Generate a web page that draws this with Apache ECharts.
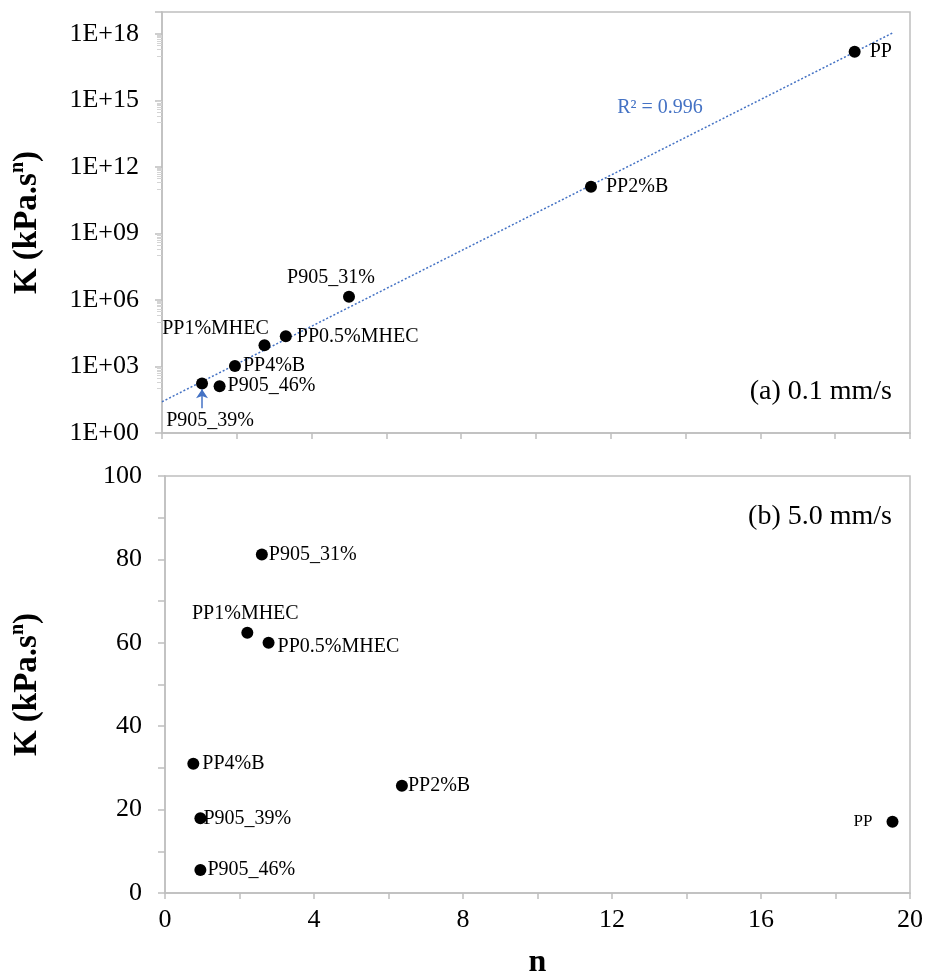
<!DOCTYPE html>
<html><head><meta charset="utf-8">
<script src="https://cdn.jsdelivr.net/npm/echarts@6/dist/echarts.min.js"></script>
<style>html,body{margin:0;padding:0;background:#fff}#c{width:940px;height:980px}</style>
</head><body><div id="c"></div>
<script>
// ---- data (a) 0.1 mm/s ----
const namesA = ['PP', 'PP2%B', 'P905_31%', 'PP0.5%MHEC', 'PP1%MHEC', 'PP4%B', 'P905_46%', 'P905_39%'];
const nA = [18.52, 11.47, 5.0, 3.31, 2.74, 1.95, 1.54, 1.07];
const kA = [1.6e17, 1.3e11, 1.4e6, 2.3e4, 9.1e3, 1.05e3, 1.3e2, 1.7e2];
// fitted exponential trend (end points)
const trendN = [0, 19.55];
const trendK = [25.7, 1.17e18];
const r2Text = 'R² = 0.996';
// ---- data (b) 5.0 mm/s ----
const namesB = ['P905_31%', 'PP1%MHEC', 'PP0.5%MHEC', 'PP4%B', 'PP2%B', 'P905_39%', 'P905_46%', 'PP'];
const nB = [2.6, 2.21, 2.78, 0.76, 6.36, 0.95, 0.95, 19.53];
const kB = [81.2, 62.4, 60.0, 31.0, 25.7, 17.9, 5.5, 17.1];
// ---- texts ----
const panelA = '(a) 0.1 mm/s';
const panelB = '(b) 5.0 mm/s';
const xTitle = 'n';

const FONT = 'Liberation Serif';
const BLUE = '#4472C4';
const GRAY = '#BFBFBF';

const labelA = {
  'PP': {position: 'right', distance: 9},
  'PP2%B': {position: 'right', distance: 9},
  'P905_31%': {position: 'top', distance: 3, offset: [-18, 0]},
  'PP0.5%MHEC': {position: 'right', distance: 5},
  'PP1%MHEC': {position: 'top', distance: 1, offset: [-49, 0]},
  'PP4%B': {position: 'right', distance: 2},
  'P905_46%': {position: 'right', distance: 2},
  'P905_39%': {position: 'bottom', distance: 21, offset: [8, 0]}
};
const labelB = {
  'P905_31%': {position: 'right', distance: 1},
  'PP1%MHEC': {position: 'top', distance: 3, offset: [-2, 0]},
  'PP0.5%MHEC': {position: 'right', distance: 3, offset: [0, 4]},
  'PP4%B': {position: 'right', distance: 3},
  'PP2%B': {position: 'right', distance: 0},
  'P905_39%': {position: 'right', distance: -3},
  'P905_46%': {position: 'right', distance: 1},
  'PP': {position: 'left', distance: 14, fontSize: 17}
};

const dataA = nA.map((n, i) => ({name: namesA[i], value: [n, kA[i]], label: labelA[namesA[i]]}));
const dataB = nB.map((n, i) => ({name: namesB[i], value: [n, kB[i]], label: labelB[namesB[i]]}));
const trendData = trendN.map((n, i) => [n, trendK[i]]);

const titleRich = {
  a: {fontSize: 33, fontWeight: 'bold', fontFamily: FONT, color: '#000', lineHeight: 38},
  s: {fontSize: 20, fontWeight: 'bold', fontFamily: FONT, color: '#000', verticalAlign: 'top', lineHeight: 22}
};
const kTitle = '{a|K (kPa.s}{s|n}{a|)}';

function pad2(e) { return (e < 10 ? '0' : '') + e; }

const labelStyle = {show: true, formatter: '{b}', fontSize: 20, fontFamily: FONT, color: '#000'};

const chart = echarts.init(document.getElementById('c'), null, {renderer: 'canvas'});
chart.setOption({
  animation: false,
  backgroundColor: '#fff',
  textStyle: {fontFamily: FONT, color: '#000'},
  grid: [
    {left: 160, top: 12, width: 750, height: 421, show: true, borderColor: GRAY, borderWidth: 1.5, containLabel: false},
    {left: 162, top: 476, width: 748, height: 420, show: true, borderColor: GRAY, borderWidth: 1.5, containLabel: false}
  ],
  xAxis: [
    {gridIndex: 0, type: 'value', min: 0, max: 20, interval: 2,
      axisLine: {lineStyle: {color: GRAY, width: 1.5}},
      axisTick: {show: true, length: 6, lineStyle: {color: GRAY, width: 1.5}},
      axisLabel: {show: false}, splitLine: {show: false}},
    {gridIndex: 1, type: 'value', min: 0, max: 20, interval: 2,
      name: xTitle, nameLocation: 'middle', nameGap: 54,
      nameTextStyle: {fontSize: 32, fontWeight: 'bold', fontFamily: FONT, color: '#000'},
      axisLine: {lineStyle: {color: GRAY, width: 1.5}},
      axisTick: {show: true, length: 6, lineStyle: {color: GRAY, width: 1.5}},
      axisLabel: {fontSize: 26, fontFamily: FONT, color: '#000', margin: 14,
        formatter: v => (Math.round(v) % 4 === 0 ? String(Math.round(v)) : '')},
      splitLine: {show: false}}
  ],
  yAxis: [
    {gridIndex: 0, type: 'log', logBase: 10, min: 1, max: 1e19, interval: 3,
      name: kTitle, nameLocation: 'middle', nameRotate: 90, nameGap: 116,
      nameTextStyle: {rich: titleRich},
      axisLine: {show: true, lineStyle: {color: GRAY, width: 1.5}},
      axisTick: {show: true, length: 7, lineStyle: {color: GRAY, width: 1.5}},
      minorTick: {show: true, splitNumber: 10, length: 5, lineStyle: {color: '#D4D4D4', width: 1}},
      axisLabel: {fontSize: 26, fontFamily: FONT, color: '#000', margin: 23,
        formatter: v => { const e = Math.round(Math.log10(v)); return e % 3 === 0 ? '1E+' + pad2(e) : ''; }},
      splitLine: {show: false}},
    {gridIndex: 1, type: 'value', min: 0, max: 100, interval: 10,
      name: kTitle, nameLocation: 'middle', nameRotate: 90, nameGap: 119,
      nameTextStyle: {rich: titleRich},
      axisLine: {show: true, lineStyle: {color: GRAY, width: 1.5}},
      axisTick: {show: true, length: 7, lineStyle: {color: GRAY, width: 1.5}},
      axisLabel: {fontSize: 26, fontFamily: FONT, color: '#000', margin: 23,
        formatter: v => (Math.round(v) % 20 === 0 ? String(Math.round(v)) : '')},
      splitLine: {show: false}}
  ],
  series: [
    {type: 'line', xAxisIndex: 0, yAxisIndex: 0, data: trendData, showSymbol: false, symbol: 'none',
      lineStyle: {color: BLUE, width: 1.5, type: [2, 2]}, z: 1, silent: true},
    {type: 'scatter', xAxisIndex: 0, yAxisIndex: 0, data: dataA, symbol: 'circle', symbolSize: 12,
      itemStyle: {color: '#000', opacity: 1}, z: 3, label: labelStyle,
      markLine: {silent: true, symbol: ['none', 'arrow'], symbolSize: 9,
        label: {show: false},
        lineStyle: {color: BLUE, width: 1.5, type: 'solid', opacity: 1},
        data: [[{coord: [nA[7], kA[7] / 13]}, {coord: [nA[7], kA[7] / 1.8]}]]}},
    {type: 'scatter', xAxisIndex: 1, yAxisIndex: 1, data: dataB, symbol: 'circle', symbolSize: 12,
      itemStyle: {color: '#000', opacity: 1}, z: 3, label: labelStyle}
  ],
  graphic: [
    {type: 'text', x: 892, y: 392, style: {text: panelA, fontSize: 28, fontFamily: FONT, fill: '#000', align: 'right', verticalAlign: 'middle'}},
    {type: 'text', x: 892, y: 517, style: {text: panelB, fontSize: 28, fontFamily: FONT, fill: '#000', align: 'right', verticalAlign: 'middle'}},
    {type: 'text', x: 660, y: 108, style: {text: r2Text, fontSize: 20, fontFamily: FONT, fill: BLUE, align: 'center', verticalAlign: 'middle'}}
  ]
});
</script>
</body></html>
